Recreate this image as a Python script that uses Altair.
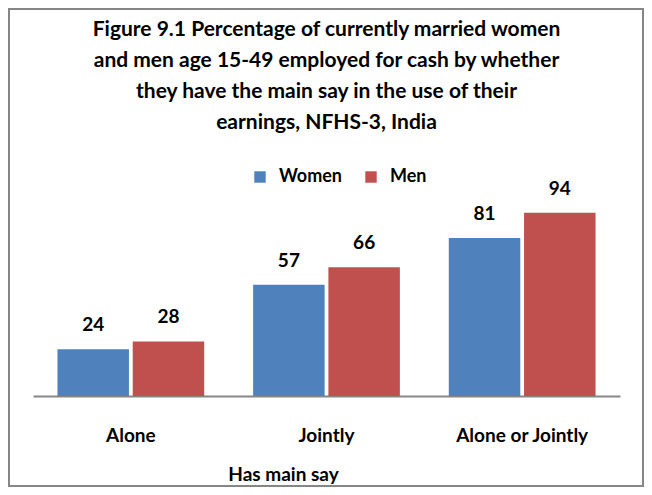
import altair as alt
import pandas as pd

categories = ["Alone", "Jointly", "Alone or Jointly"]
series = ["Women", "Men"]
women = [24, 57, 81]
men = [28, 66, 94]
colors = ["#4F81BD", "#C0504D"]
title_lines = [
    "Figure 9.1 Percentage of currently married women",
    "and men age 15-49 employed for cash by whether",
    "they have the main say in the use of their",
    "earnings, NFHS-3, India",
]
x_title = "Has main say"

rows = []
for i, c in enumerate(categories):
    rows.append({"cat": c, "sex": "Women", "val": women[i]})
    rows.append({"cat": c, "sex": "Men", "val": men[i]})
df = pd.DataFrame(rows)

FONT = "Lato"

x = alt.X(
    "cat:N",
    sort=categories,
    title=x_title,
    scale=alt.Scale(paddingInner=0.25, paddingOuter=0.125),
    axis=alt.Axis(
        labelAngle=0, labelFont=FONT, labelFontWeight="bold", labelFontSize=19,
        labelColor="black", labelPadding=39, labelBaseline="middle", ticks=False,
        domainColor="#868686", domainWidth=2,
        titleFont=FONT, titleFontWeight="bold", titleFontSize=19, titleColor="black",
        titleX=250, titleY=78, titleBaseline="middle", titleAlign="center",
    ),
)
xo = alt.XOffset("sex:N", sort=series, scale=alt.Scale(paddingInner=0.05))
y = alt.Y("val:Q", scale=alt.Scale(domain=[0, 100]), axis=None)
color = alt.Color(
    "sex:N", sort=series,
    scale=alt.Scale(domain=series, range=colors),
    legend=alt.Legend(
        title=None, orient="none", legendX=218, legendY=-33, direction="horizontal",
        symbolType="square", symbolSize=130, symbolStrokeWidth=0,
        labelFont=FONT, labelFontSize=18, labelFontWeight="bold", labelColor="black",
        columnPadding=19, labelOffset=10,
    ),
)

base = alt.Chart(df)
bars = base.mark_bar().encode(x=x, xOffset=xo, y=y, color=color)
labels = base.mark_text(
    baseline="middle", dy=-24, font=FONT, fontSize=19, fontWeight="bold", color="black"
).encode(x=x, xOffset=xo, y=y, text="val:Q")

border = alt.Chart(alt.Data(values=[{"a": 1}])).mark_rect(
    fillOpacity=0, stroke="#868686", strokeWidth=2
).encode(x=alt.value(-24), x2=alt.value(610), y=alt.value(-192), y2=alt.value(285))

chart = alt.layer(bars, labels, border).properties(
    width=587,
    height=195,
    autosize=alt.AutoSizeParams(type="none"),
    padding={"left": 25, "right": 24, "top": 193, "bottom": 91},
    title=alt.TitleParams(
        text=title_lines, anchor="middle", font=FONT, fontSize=21, fontWeight="bold",
        color="black", lineHeight=31, offset=0, dy=125,
    ),
).configure(background="white", view=alt.ViewConfig(strokeOpacity=0))

chart.save("out.html", embed_options={"renderer": "svg", "actions": False})
